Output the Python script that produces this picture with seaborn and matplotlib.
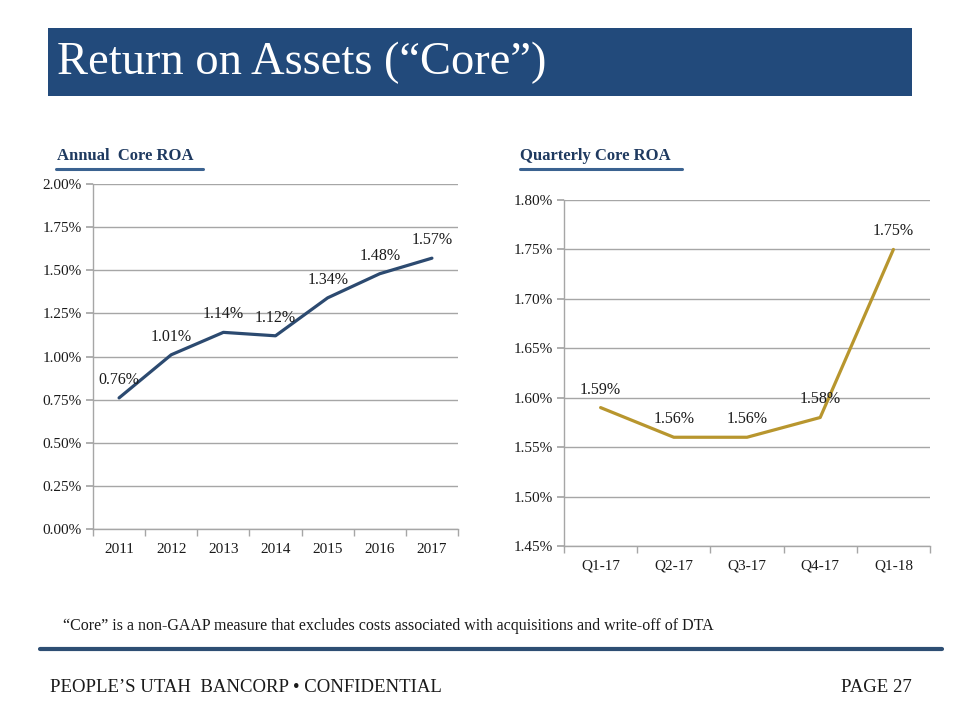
import matplotlib
matplotlib.use("Agg")
import matplotlib.pyplot as plt
from matplotlib.patches import Rectangle
from matplotlib.lines import Line2D
from matplotlib.ticker import FixedLocator, FuncFormatter
import seaborn as sns
import pandas as pd

# ---- data ----
annual_years = ["2011", "2012", "2013", "2014", "2015", "2016", "2017"]
annual_roa = [0.76, 1.01, 1.14, 1.12, 1.34, 1.48, 1.57]
annual_yticks = [0.00, 0.25, 0.50, 0.75, 1.00, 1.25, 1.50, 1.75, 2.00]

quarters = ["Q1-17", "Q2-17", "Q3-17", "Q4-17", "Q1-18"]
quarterly_roa = [1.59, 1.56, 1.56, 1.58, 1.75]
quarterly_yticks = [1.45, 1.50, 1.55, 1.60, 1.65, 1.70, 1.75, 1.80]

title = "Return on Assets (\u201cCore\u201d)"
left_title = "Annual  Core ROA"
right_title = "Quarterly Core ROA"
footnote = "\u201cCore\u201d is a non-GAAP measure that excludes costs associated with acquisitions and write-off of DTA"
footer_left = "PEOPLE\u2019S UTAH  BANCORP \u2022 CONFIDENTIAL"
footer_right = "PAGE 27"

sns.set_theme(style="white")
plt.rcParams["font.family"] = ["Liberation Serif", "DejaVu Serif"]

LINE_NAVY = "#2C4A70"
GOLD = "#B8962E"
GRID = "#A6A6A6"

fig = plt.figure(figsize=(9.6, 7.2), dpi=100)
W, H = 960, 720

def fx(x):
    return x / W

def fy(y):
    return 1 - y / H

# Title banner
fig.patches.append(Rectangle((fx(48), fy(96)), fx(912) - fx(48), fy(28) - fy(96),
                             transform=fig.transFigure, facecolor="#224A7B", edgecolor="none", zorder=0))
fig.text(fx(57), fy(63), title, color="white", fontsize=33.5, va="center", ha="left")

def panel(rect, cats, vals, yticks, color, sub_title, sub_xy, underline):
    ax = fig.add_axes(rect)
    df = pd.DataFrame({"cat": cats, "val": vals})
    sns.lineplot(data=df, x="cat", y="val", sort=False, color=color, linewidth=2.3, ax=ax)
    ax.set_xlim(-0.5, len(cats) - 0.5)
    ax.set_ylim(yticks[0], yticks[-1])
    ax.yaxis.set_major_locator(FixedLocator(yticks))
    ax.yaxis.set_major_formatter(FuncFormatter(lambda v, p: f"{v:.2f}%"))
    ax.grid(axis="y", color=GRID, linewidth=1)
    ax.grid(axis="x", visible=False)
    ax.set_xlabel("")
    ax.set_ylabel("")
    for s in ["top", "right"]:
        ax.spines[s].set_visible(False)
    for s in ["left", "bottom"]:
        ax.spines[s].set_color(GRID)
        ax.spines[s].set_linewidth(1)
    ax.xaxis.set_minor_locator(FixedLocator([i - 0.5 for i in range(len(cats) + 1)]))
    ax.tick_params(axis="x", which="major", length=0, pad=10, labelsize=11, labelcolor="#1a1a1a")
    ax.tick_params(axis="x", which="minor", length=5, color=GRID, direction="out", bottom=True)
    ax.tick_params(axis="y", which="major", length=5, color=GRID, direction="out", left=True,
                   labelsize=11, labelcolor="#1a1a1a", pad=3)
    for i, v in enumerate(vals):
        ax.annotate(f"{v:.2f}%", (i, v), xytext=(0, 13), textcoords="offset points",
                    ha="center", va="center", fontsize=11.5, color="#1a1a1a")
    fig.text(fx(sub_xy[0]), fy(sub_xy[1]), sub_title, fontsize=12, fontweight="bold",
             color="#1F3A60", ha="left", va="center")
    fig.add_artist(Line2D([fx(underline[0]), fx(underline[1])], [fy(169), fy(169)],
                          transform=fig.transFigure, color="#3B6290", linewidth=2.2))
    return ax

panel([fx(93), fy(529), fx(458) - fx(93), fy(184) - fy(529)], annual_years, annual_roa,
      annual_yticks, LINE_NAVY, left_title, (57, 156), (56, 203))
panel([fx(564), fy(546), fx(930) - fx(564), fy(200) - fy(546)], quarters, quarterly_roa,
      quarterly_yticks, GOLD, right_title, (520, 156), (520, 682))

fig.text(fx(63), fy(626), footnote, fontsize=11.5, ha="left", va="center", color="#1a1a1a")
fig.add_artist(Line2D([fx(40), fx(942)], [fy(649), fy(649)], transform=fig.transFigure,
                      color="#2E4E73", linewidth=3))
fig.text(fx(50), fy(687), footer_left, fontsize=13.5, ha="left", va="center", color="#1a1a1a")
fig.text(fx(912), fy(687), footer_right, fontsize=13.5, ha="right", va="center", color="#1a1a1a")

fig.savefig("out.png", dpi=100)
